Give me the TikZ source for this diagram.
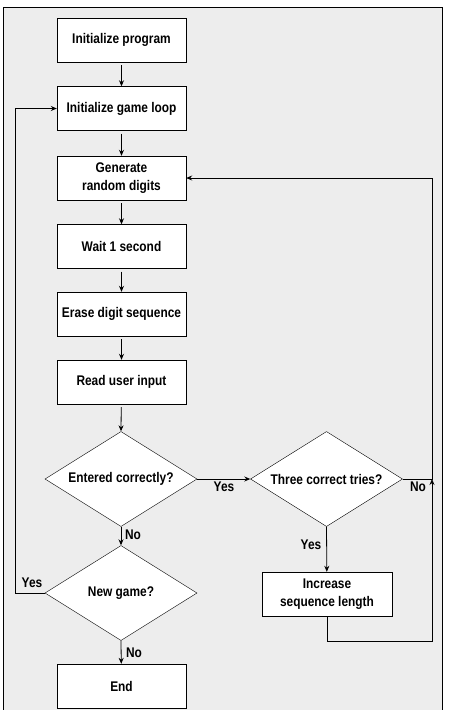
\documentclass[tikz,border=0pt]{standalone}
\usepackage{fontspec}
\setmainfont{Liberation Sans}[FakeStretch=0.85]
\usepackage{tikz}
\usetikzlibrary{arrows.meta, shapes.geometric}
\definecolor{panelgray}{RGB}{237,237,237}
\tikzset{
    procbox/.style={draw=black, fill=white, minimum width=129pt, minimum height=44pt, inner sep=2pt, align=center, font=\bfseries\fontsize{14}{17.5}\selectfont},
    decision/.style={diamond, draw=black, fill=white, minimum width=152pt, minimum height=95pt, aspect=1.6, inner sep=0pt, font=\bfseries\fontsize{14}{17}\selectfont},
    flow/.style={draw=black, line width=0.8pt, -{Stealth[length=6pt, width=5pt]}},
    link/.style={draw=black, line width=0.8pt},
    answer/.style={font=\bfseries\fontsize{14}{17}\selectfont, inner sep=1pt}
}

\begin{document}
\begin{tikzpicture}[x=1pt, y=-1pt]
    \useasboundingbox (0,0) rectangle (457,710);
    % grey panel, open at the bottom
    \fill[panelgray] (3,7) rectangle (442,710);
    \draw[line width=0.8pt] (3,710) -- (3,7) -- (442,7) -- (442,710);

    % main column
    \node[procbox] (init) at (121.5,40) {Initialize program};
    \node[procbox] (loop) at (121.5,108.5) {Initialize game loop};
    \node[procbox] (gen) at (121.5,178) {Generate\\random digits};
    \node[procbox] (wait) at (121.5,246.5) {Wait 1 second};
    \node[procbox] (erase) at (121.5,314) {Erase digit sequence};
    \node[procbox] (read) at (121.5,382) {Read user input};
    \node[decision] (entered) at (121,479) {Entered correctly?};
    \node[decision] (newgame) at (121,593) {New game?};
    \node[procbox] (finish) at (121.5,686) {End};

    % right column
    \node[decision] (three) at (326.5,479) {Three correct tries?};
    \node[procbox, minimum width=130pt] (incr) at (327,594) {Increase\\sequence length};

    % bends of the loops
    \coordinate (ljoin) at (15,593);
    \coordinate (rjoin) at (432,479);
    \coordinate (rbottom) at (432,641);

    \draw[flow, shorten <=3pt] (init) -- (loop);
    \draw[flow, shorten <=3pt] (loop) -- (gen);
    \draw[flow, shorten <=3pt] (gen) -- (wait);
    \draw[flow, shorten <=3pt] (wait) -- (erase);
    \draw[flow, shorten <=3pt] (erase) -- (read);
    \draw[flow, shorten <=3pt] (read) -- (entered.north);
    \draw[flow] (entered.east) -- (three.west);
    \draw[flow] (entered.south) -- (newgame.north);
    \draw[flow] (newgame.south) -- (finish);
    \draw[flow] (newgame.west) -- (ljoin) |- (loop.west);
    \draw[flow] (three.south) -- (incr);
    \draw[flow] (incr.south) |- (rbottom) -- (rjoin);
    \draw[flow] (three.east) -- (rjoin) |- (gen.east);

    % answers
    \node[answer] (yes1) at (224,487) {Yes};
    \node[answer] (no1) at (418,487) {No};
    \node[answer] (no2) at (133,535) {No};
    \node[answer] (yes2) at (311,545) {Yes};
    \node[answer] (yes3) at (32,583) {Yes};
    \node[answer] (no3) at (134,653) {No};
\end{tikzpicture}
\end{document}
